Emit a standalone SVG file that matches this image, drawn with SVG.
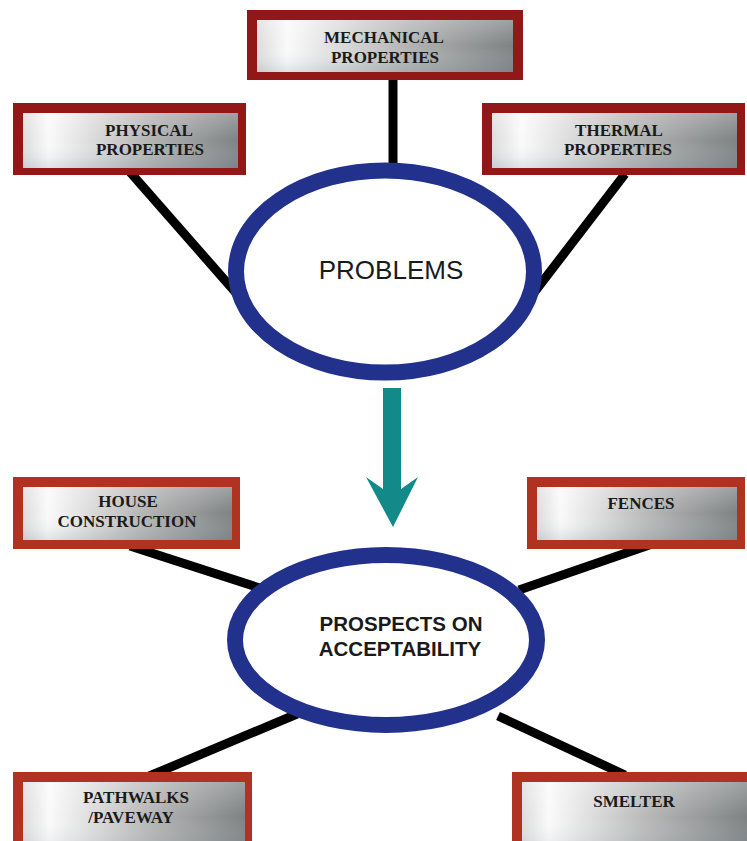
<svg xmlns="http://www.w3.org/2000/svg" width="747" height="841" viewBox="0 0 747 841">
<defs>
<linearGradient id="g" x1="0" y1="0" x2="1" y2="0">
<stop offset="0" stop-color="#dcdcdc"/>
<stop offset="0.12" stop-color="#fafafa"/>
<stop offset="0.55" stop-color="#b8b8b8"/>
<stop offset="1" stop-color="#7e8283"/>
</linearGradient>
<linearGradient id="gv" x1="0" y1="0" x2="0" y2="1">
<stop offset="0" stop-color="#ffffff" stop-opacity="0.25"/>
<stop offset="0.5" stop-color="#ffffff" stop-opacity="0"/>
<stop offset="1" stop-color="#6f8a9a" stop-opacity="0.2"/>
</linearGradient>
<style>
.o1{fill:#921818}
.o2{fill:#b03220}
.in{fill:url(#g)}
.iv{fill:url(#gv)}
.bt{font-family:"Liberation Serif","Times New Roman",serif;font-weight:bold;font-size:17px;fill:#1a1a1a;text-anchor:middle}
.el{fill:#ffffff;stroke:#22318c;stroke-width:16}
.cn{stroke:#000;stroke-width:9;stroke-linecap:butt}
</style>
</defs>
<rect width="747" height="841" fill="#ffffff"/>

<g id="connectors">
<line class="cn" x1="393" y1="79" x2="393" y2="168"/>
<line class="cn" x1="130" y1="172" x2="237" y2="294"/>
<line class="cn" x1="625" y1="174" x2="533" y2="294"/>
<line class="cn" x1="130" y1="546" x2="266" y2="590"/>
<line class="cn" x1="655" y1="543" x2="519" y2="590"/>
<line class="cn" x1="147" y1="777" x2="297" y2="714"/>
<line class="cn" x1="625" y1="775" x2="498" y2="716"/>
<polygon fill="#128a8a" points="383,388 401,388 401,489 418,477 393,527 366,477 383,489"/>
</g>

<g id="problems">
<ellipse class="el" cx="385" cy="271.5" rx="149" ry="101"/>
<text x="391" y="279" font-family="'Liberation Sans',Arial,sans-serif" font-size="26" fill="#1a1a1a" text-anchor="middle">PROBLEMS</text>
</g>

<g id="prospects">
<ellipse class="el" cx="386" cy="640" rx="151" ry="85"/>
<text x="401" y="631" font-family="'Liberation Sans',Arial,sans-serif" font-size="20.5" font-weight="bold" fill="#1a1a1a" text-anchor="middle">PROSPECTS ON</text>
<text x="400" y="656" font-family="'Liberation Sans',Arial,sans-serif" font-size="20.5" font-weight="bold" fill="#1a1a1a" text-anchor="middle">ACCEPTABILITY</text>
</g>

<g id="mechanical">
<rect class="o1" x="247" y="10" width="276" height="70"/>
<rect class="in" x="257" y="20" width="256" height="52"/>
<rect class="iv" x="257" y="20" width="256" height="52"/>
<text class="bt" x="384" y="43">MECHANICAL</text>
<text class="bt" x="385" y="63">PROPERTIES</text>
</g>

<g id="physical">
<rect class="o1" x="13" y="103" width="233" height="72"/>
<rect class="in" x="23" y="113" width="215" height="55"/>
<rect class="iv" x="23" y="113" width="215" height="55"/>
<text class="bt" x="149" y="136">PHYSICAL</text>
<text class="bt" x="150" y="155">PROPERTIES</text>
</g>

<g id="thermal">
<rect class="o1" x="482" y="103" width="263" height="72"/>
<rect class="in" x="492" y="113" width="245" height="55"/>
<rect class="iv" x="492" y="113" width="245" height="55"/>
<text class="bt" x="619" y="136">THERMAL</text>
<text class="bt" x="618" y="155">PROPERTIES</text>
</g>

<g id="house">
<rect class="o2" x="13" y="477" width="227" height="72"/>
<rect class="in" x="23" y="487" width="209" height="53"/>
<rect class="iv" x="23" y="487" width="209" height="53"/>
<text class="bt" x="128" y="507">HOUSE</text>
<text class="bt" x="127" y="527">CONSTRUCTION</text>
</g>

<g id="fences">
<rect class="o2" x="527" y="477" width="218" height="72"/>
<rect class="in" x="537" y="487" width="200" height="53"/>
<rect class="iv" x="537" y="487" width="200" height="53"/>
<text class="bt" x="641" y="509">FENCES</text>
</g>

<g id="pathwalks">
<rect class="o2" x="13" y="772" width="239" height="80"/>
<rect class="in" x="23" y="782" width="222" height="70"/>
<rect class="iv" x="23" y="782" width="222" height="70"/>
<text class="bt" x="136" y="803">PATHWALKS</text>
<text class="bt" x="131" y="823">/PAVEWAY</text>
</g>

<g id="smelter">
<rect class="o2" x="512" y="772" width="245" height="80"/>
<rect class="in" x="522" y="782" width="225" height="70"/>
<rect class="iv" x="522" y="782" width="225" height="70"/>
<text class="bt" x="634" y="807">SMELTER</text>
</g>
</svg>
